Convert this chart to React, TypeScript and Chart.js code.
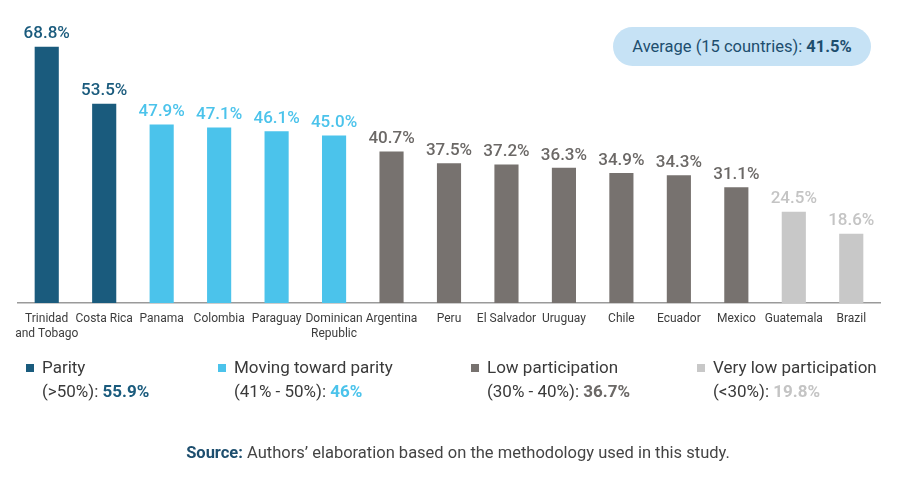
import React, { useEffect, useRef } from "react";
import { Chart, registerables } from "chart.js";

Chart.register(...registerables);

const countries: (string | string[])[] = [
  ["Trinidad", "and Tobago"], "Costa Rica", "Panama", "Colombia", "Paraguay",
  ["Dominican", "Republic"], "Argentina", "Peru", "El Salvador", "Uruguay",
  "Chile", "Ecuador", "Mexico", "Guatemala", "Brazil",
];
const values = [68.8, 53.5, 47.9, 47.1, 46.1, 45.0, 40.7, 37.5, 37.2, 36.3, 34.9, 34.3, 31.1, 24.5, 18.6];
const groups = [0, 0, 1, 1, 1, 1, 2, 2, 2, 2, 2, 2, 2, 3, 3];

const groupBarColors = ["#1a5b7d", "#4bc3eb", "#77726f", "#c8c8c8"];
const groupLabelColors = ["#1a5b7d", "#4bc3eb", "#6b6866", "#c4c4c4"];
const legendTitles = ["Parity", "Moving toward parity", "Low participation", "Very low participation"];
const legendRanges = ["(>50%): ", "(41% - 50%): ", "(30% - 40%): ", "(<30%): "];
const legendValues = ["55.9%", "46%", "36.7%", "19.8%"];
const averageLabel = "Average (15 countries): ";
const averageValue = "41.5%";

const FONT = "Roboto, 'Noto Sans', sans-serif";

const valueLabelPlugin = {
  id: "valueLabels",
  afterDatasetsDraw(chart: any) {
    const ctx = chart.ctx;
    const meta = chart.getDatasetMeta(0);
    ctx.save();
    ctx.font = `500 17px ${FONT}`;
    ctx.textAlign = "center";
    ctx.textBaseline = "bottom";
    meta.data.forEach((bar: any, i: number) => {
      ctx.fillStyle = groupLabelColors[groups[i]];
      ctx.fillText(values[i].toFixed(1) + "%", bar.x, bar.y - 4);
    });
    ctx.restore();
  },
};

export default function App() {
  const ref = useRef<HTMLCanvasElement>(null);
  useEffect(() => {
    if (!ref.current) return;
    const chart = new Chart(ref.current, {
      type: "bar",
      data: {
        labels: countries,
        datasets: [
          {
            data: values,
            backgroundColor: groups.map((g) => groupBarColors[g]),
            barPercentage: 0.42,
            categoryPercentage: 1,
          },
        ],
      },
      options: {
        animation: false,
        responsive: false,
        devicePixelRatio: 1,
        layout: { padding: { left: 18, right: 22, top: 5, bottom: 0 } },
        plugins: { legend: { display: false }, tooltip: { enabled: false } },
        scales: {
          x: {
            grid: { display: false, drawTicks: false },
            border: { display: true, color: "#9a9a9a", width: 1.5 },
            ticks: {
              color: "#3c3c3c",
              font: { family: FONT, size: 12 },
              padding: 9,
              maxRotation: 0,
              autoSkip: false,
            },
            afterFit: (scale: any) => {
              scale.height = 179;
            },
          },
          y: {
            display: false,
            min: 0,
            max: 80,
          },
        },
      },
      plugins: [valueLabelPlugin],
    });
    return () => chart.destroy();
  }, []);

  const legendX = [26, 218, 471, 697];

  return (
    <div
      style={{
        position: "fixed",
        left: 0,
        top: 0,
        width: 902,
        height: 482,
        background: "#ffffff",
        fontFamily: FONT,
        overflow: "hidden",
      }}
    >
      <canvas ref={ref} width={902} height={482} style={{ position: "absolute", left: 0, top: 0, width: 902, height: 482 }} />
      <div
        style={{
          position: "absolute",
          left: 613,
          top: 27,
          width: 258,
          height: 39,
          lineHeight: "39px",
          borderRadius: 20,
          background: "#c6e2f5",
          color: "#1d4e6e",
          fontSize: 16.5,
          textAlign: "center",
          whiteSpace: "pre",
        }}
      >
        {averageLabel}
        <span style={{ fontWeight: 700 }}>{averageValue}</span>
      </div>
      {legendTitles.map((t, i) => (
        <div key={i} style={{ position: "absolute", left: legendX[i], top: 355, whiteSpace: "pre" }}>
          <div
            style={{
              position: "absolute",
              left: 0,
              top: 9,
              width: 8,
              height: 8,
              background: groupBarColors[i],
            }}
          />
          <div style={{ position: "absolute", left: 16, top: 0, fontSize: 17, lineHeight: "24px", color: "#3a3a3a" }}>
            <div>{t}</div>
            <div>
              {legendRanges[i]}
              <span style={{ fontWeight: 700, color: groupLabelColors[i] }}>{legendValues[i]}</span>
            </div>
          </div>
        </div>
      ))}
      <div
        style={{
          position: "absolute",
          left: 0,
          width: 916,
          top: 442,
          textAlign: "center",
          fontSize: 16.5,
          lineHeight: "22px",
          color: "#444444",
          whiteSpace: "nowrap",
        }}
      >
        <span style={{ fontWeight: 700, color: "#1d4e6e" }}>Source:</span> Authors’ elaboration based on the methodology used in this study.
      </div>
    </div>
  );
}
